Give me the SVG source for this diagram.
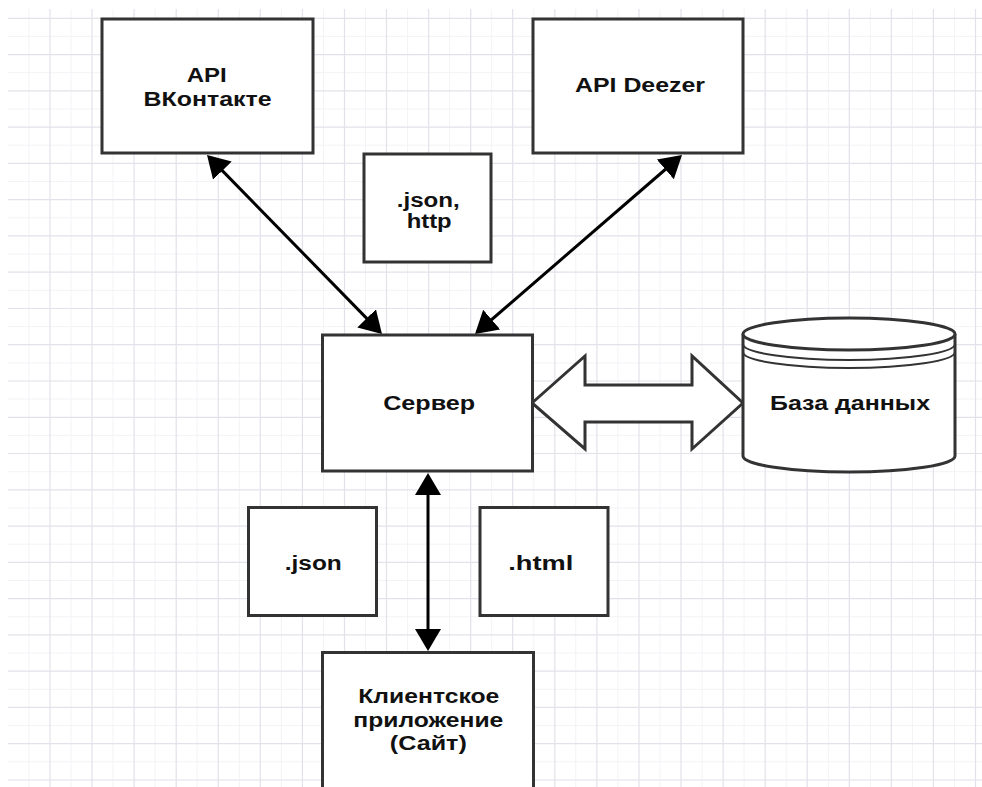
<svg xmlns="http://www.w3.org/2000/svg" width="982" height="787" viewBox="0 0 982 787">
<style>
.box{fill:#fff;stroke:#333;stroke-width:3}
.t{font-family:"Liberation Sans",Arial,sans-serif;font-weight:bold;font-size:20px;fill:#111;text-anchor:middle}
.conn{stroke:#000;stroke-width:3;fill:none;marker-start:url(#ah);marker-end:url(#ah)}
.gmaj{stroke:#e2e2ea;stroke-width:1.2;fill:none}
.gmin{stroke:#f3f3f7;stroke-width:1;fill:none}
</style>
<defs>
<marker id="ah" viewBox="0 0 22 26" refX="19" refY="13" markerWidth="22" markerHeight="26" markerUnits="userSpaceOnUse" orient="auto-start-reverse">
<path d="M0,0 L22,13 L0,26 z" fill="#000"/>
</marker>
</defs>
<rect x="0" y="0" width="982" height="787" fill="#fff"/>
<g id="grid">
<path class="gmin" d="M28.9,9V787M71,9V787M113.1,9V787M155.1,9V787M197.2,9V787M239.3,9V787M281.4,9V787M323.4,9V787M365.5,9V787M407.6,9V787M449.6,9V787M491.7,9V787M533.8,9V787M575.8,9V787M617.9,9V787M660,9V787M702.1,9V787M744.1,9V787M786.2,9V787M828.3,9V787M870.3,9V787M912.4,9V787M954.5,9V787M8,36.4H982M8,72.7H982M8,109H982M8,145.2H982M8,181.5H982M8,217.8H982M8,254.1H982M8,290.3H982M8,326.6H982M8,362.9H982M8,399.1H982M8,435.4H982M8,471.7H982M8,507.9H982M8,544.2H982M8,580.5H982M8,616.8H982M8,653H982M8,689.3H982M8,725.6H982M8,761.8H982"/>
<path class="gmaj" d="M50,9V787M92,9V787M134.1,9V787M176.2,9V787M218.3,9V787M260.3,9V787M302.4,9V787M344.5,9V787M386.5,9V787M428.6,9V787M470.7,9V787M512.7,9V787M554.8,9V787M596.9,9V787M639,9V787M681,9V787M723.1,9V787M765.2,9V787M807.2,9V787M849.3,9V787M891.4,9V787M933.4,9V787M975.5,9V787M8,18.3H982M8,54.6H982M8,90.8H982M8,127.1H982M8,163.4H982M8,199.7H982M8,235.9H982M8,272.2H982M8,308.5H982M8,344.7H982M8,381H982M8,417.3H982M8,453.5H982M8,489.8H982M8,526.1H982M8,562.4H982M8,598.6H982M8,634.9H982M8,671.2H982M8,707.4H982M8,743.7H982M8,780H982"/>
</g>
<g id="connectors">
<line class="conn" x1="209.1" y1="157.1" x2="379.9" y2="331.9"/>
<line class="conn" x1="477.3" y1="332" x2="679.7" y2="157"/>
<line class="conn" x1="428" y1="476" x2="428" y2="648"/>
<polygon points="532,403 585,356 585,385 692,385 692,356 743,403 692,449 692,422 585,422 585,449" fill="#fff" stroke="#333" stroke-width="3" stroke-linejoin="miter"/>
</g>
<g id="vk">
<rect class="box" x="102" y="19" width="211" height="134"/>
<text class="t" x="206.7" y="81.7" textLength="40" lengthAdjust="spacingAndGlyphs">API</text>
<text class="t" x="207.5" y="106" textLength="128" lengthAdjust="spacingAndGlyphs">ВКонтакте</text>
</g>
<g id="deezer">
<rect class="box" x="533" y="19" width="210" height="134"/>
<text class="t" x="640" y="92.3" textLength="130" lengthAdjust="spacingAndGlyphs">API Deezer</text>
</g>
<g id="jsonhttp">
<rect class="box" x="364" y="154" width="127" height="108"/>
<text class="t" x="428.3" y="206.7" textLength="63" lengthAdjust="spacingAndGlyphs">.json,</text>
<text class="t" x="429.2" y="228.3" textLength="45" lengthAdjust="spacingAndGlyphs">http</text>
</g>
<g id="server">
<rect class="box" x="322.5" y="335" width="210" height="136"/>
<text class="t" x="429.2" y="410" textLength="92" lengthAdjust="spacingAndGlyphs">Сервер</text>
</g>
<g id="db">
<path d="M743,334 V456 A106,16 0 0,0 955,456 V334" fill="#fff" stroke="#333" stroke-width="3"/>
<ellipse cx="849" cy="334" rx="106" ry="16" fill="#fff" stroke="#333" stroke-width="3"/>
<path d="M743,344 A106,16 0 0,0 955,344 M743,352 A106,16 0 0,0 955,352" fill="none" stroke="#333" stroke-width="2"/>
<text class="t" x="850" y="410" textLength="160" lengthAdjust="spacingAndGlyphs">База данных</text>
</g>
<g id="json">
<rect class="box" x="248.5" y="507.5" width="128" height="108"/>
<text class="t" x="313.3" y="570" textLength="57" lengthAdjust="spacingAndGlyphs">.json</text>
</g>
<g id="html">
<rect class="box" x="480" y="507.5" width="128" height="108"/>
<text class="t" x="540.8" y="570" textLength="65" lengthAdjust="spacingAndGlyphs">.html</text>
</g>
<g id="client">
<rect class="box" x="322.5" y="652.5" width="211" height="150"/>
<text class="t" x="428.8" y="702.7" textLength="141" lengthAdjust="spacingAndGlyphs">Клиентское</text>
<text class="t" x="428.3" y="726.7" textLength="150" lengthAdjust="spacingAndGlyphs">приложение</text>
<text class="t" x="428.3" y="749.5" textLength="77" lengthAdjust="spacingAndGlyphs">(Сайт)</text>
</g>
</svg>
